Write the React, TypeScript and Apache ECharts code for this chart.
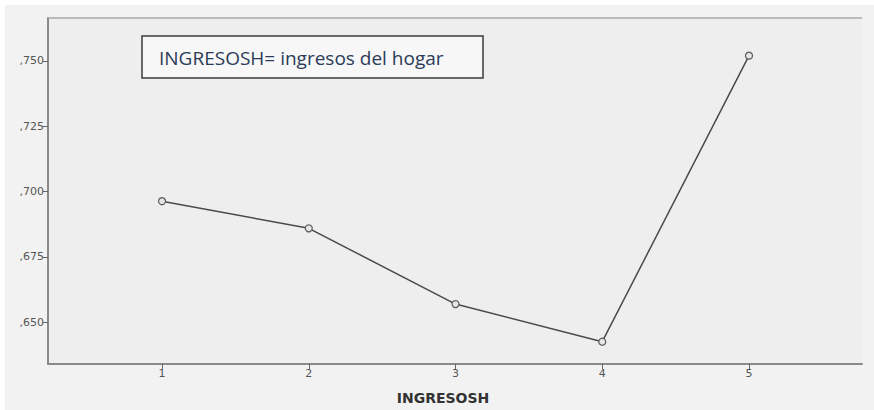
import React, { useEffect, useRef } from "react";
import * as echarts from "echarts";

const categories = [1, 2, 3, 4, 5];
const meanValues = [0.6963, 0.6859, 0.6569, 0.6425, 0.752];
const yTicks = [0.65, 0.675, 0.7, 0.725, 0.75];
const noteText = "INGRESOSH= ingresos del hogar";
const xName = "INGRESOSH";

export default function App() {
  const ref = useRef<HTMLDivElement>(null);
  useEffect(() => {
    document.body.style.margin = "0";
    const chart = echarts.init(ref.current!, null, { renderer: "svg" });
    chart.setOption({
      animation: false,
      backgroundColor: "#ffffff",
      graphic: [
        { type: "rect", z: -10, silent: true, shape: { x: 5, y: 5, width: 869, height: 405 }, style: { fill: "#f2f2f2" } },
        { type: "rect", z: -9, silent: true, shape: { x: 48, y: 18, width: 814, height: 347 }, style: { fill: "#eeeeee" } },
        { type: "line", z: 5, silent: true, shape: { x1: 48, y1: 18, x2: 862, y2: 18 }, style: { stroke: "#a8a8a8", lineWidth: 1.5 } },
        { type: "rect", z: 10, shape: { x: 142, y: 36, width: 341, height: 42 }, style: { fill: "#f7f7f7", stroke: "#3a3a3a", lineWidth: 1.5 } },
        { type: "text", z: 11, x: 159, y: 58, style: { text: noteText, fill: "#2b3b58", font: "19px 'Open Sans', sans-serif", textVerticalAlign: "middle" } },
      ],
      grid: { left: 48, top: 18, width: 814, height: 347, containLabel: false },
      xAxis: {
        type: "value",
        min: 0.223,
        max: 5.77,
        name: xName,
        nameLocation: "middle",
        nameGap: 27,
        nameTextStyle: { fontFamily: "DejaVu Sans", fontWeight: "bold", fontSize: 14, color: "#333", padding: [0, 24, 0, 0] },
        axisLine: { lineStyle: { color: "#8a8a8a", width: 2 } },
        axisTick: { show: true, length: 5, customValues: categories, lineStyle: { color: "#666" } },
        axisLabel: { customValues: categories, color: "#555", fontSize: 11, margin: 4, fontFamily: "DejaVu Sans" },
        splitLine: { show: false },
      },
      yAxis: {
        type: "value",
        min: 0.63397,
        max: 0.76641,
        axisLine: { show: true, lineStyle: { color: "#8a8a8a", width: 2 } },
        axisTick: { show: true, length: 5, customValues: yTicks, lineStyle: { color: "#666" } },
        axisLabel: {
          customValues: yTicks,
          color: "#555",
          fontSize: 11,
          margin: 4,
          fontFamily: "DejaVu Sans",
          formatter: (v: number) => "," + Math.round(v * 1000).toString(),
        },
        splitLine: { show: false },
      },
      series: [
        {
          type: "line",
          data: categories.map((c, i) => [c, meanValues[i]]),
          symbol: "circle",
          symbolSize: 7,
          lineStyle: { color: "#4a4a4a", width: 1.5 },
          itemStyle: { color: "#e6e6e6", borderColor: "#5a5a5a", borderWidth: 1.2 },
        },
      ],
    });
    return () => chart.dispose();
  }, []);
  return <div ref={ref} style={{ width: 874, height: 410 }} />;
}
